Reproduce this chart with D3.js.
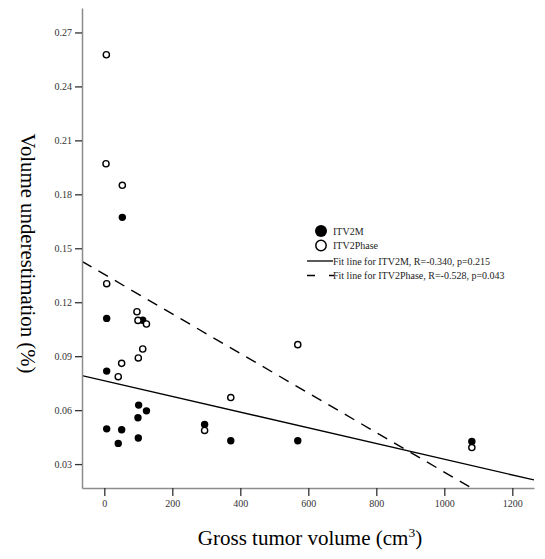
<!DOCTYPE html>
<html>
<head>
<meta charset="utf-8">
<script src="https://cdn.jsdelivr.net/npm/d3@7"></script>
<style>
  html, body { margin: 0; padding: 0; background: #fff; }
  svg { display: block; }
</style>
</head>
<body>
<svg id="chart" width="545" height="559"></svg>
<script>
// ---- data ----
const itv2mGTV   = [53, 7, 113, 7, 101, 124, 99, 295, 7, 51, 100, 41, 372, 569, 1081];
const itv2mUnder = [0.1672, 0.111, 0.110, 0.0817, 0.0628, 0.0596, 0.0558, 0.052, 0.0496, 0.0491, 0.0445, 0.0415, 0.043, 0.043, 0.0426];
const itv2pGTV   = [6, 5, 53, 7, 96, 99, 124, 113, 100, 51, 41, 569, 372, 295, 1081];
const itv2pUnder = [0.2576, 0.197, 0.185, 0.1303, 0.1147, 0.1099, 0.1079, 0.094, 0.089, 0.086, 0.0786, 0.0964, 0.067, 0.0487, 0.0392];
const xTicks = [0, 200, 400, 600, 800, 1000, 1200];
const yTicks = [0.03, 0.06, 0.09, 0.12, 0.15, 0.18, 0.21, 0.24, 0.27];
const legendLabels = ["ITV2M", "ITV2Phase", "Fit line for ITV2M, R=-0.340, p=0.215", "Fit line for ITV2Phase, R=-0.528, p=0.043"];
const xTitle = "Gross tumor volume (cm";
const xTitleSup = "3";
const yTitle = "Volume underestimation (%)";

// ---- layout ----
const L = 82, R = 534, T = 8, B = 488;
const font = "'Liberation Serif', 'Times New Roman', serif";
const svg = d3.select("#chart");

const x = d3.scaleLinear().domain([-65.6, 1263.8]).range([L, R]);
const y = d3.scaleLinear().domain([0.0167, 0.2836]).range([B, T]);

svg.append("defs").append("clipPath").attr("id", "plotclip")
  .append("rect").attr("x", L).attr("y", T).attr("width", R - L).attr("height", B - T);

// fit lines (least squares)
function fit(xs, ys) {
  const mx = d3.mean(xs), my = d3.mean(ys);
  let sxy = 0, sxx = 0;
  xs.forEach((v, i) => { sxy += (v - mx) * (ys[i] - my); sxx += (v - mx) * (v - mx); });
  const b = sxy / sxx;
  return { a: my - b * mx, b };
}
const f1 = fit(itv2mGTV, itv2mUnder);
const f2 = fit(itv2pGTV, itv2pUnder);
const xd = x.domain();
const lineGen = d3.line().x(d => x(d[0])).y(d => y(d[1]));
const gLines = svg.append("g").attr("clip-path", "url(#plotclip)");
gLines.append("path")
  .attr("d", lineGen(xd.map(v => [v, f1.a + f1.b * v])))
  .attr("fill", "none").attr("stroke", "#000").attr("stroke-width", 1.4);
gLines.append("path")
  .attr("d", lineGen(xd.map(v => [v, f2.a + f2.b * v])))
  .attr("fill", "none").attr("stroke", "#000").attr("stroke-width", 1.4)
  .attr("stroke-dasharray", "11,8");

// axes
const yAxis = svg.append("g").attr("transform", `translate(${L},0)`)
  .call(d3.axisLeft(y).tickValues(yTicks).tickFormat(d3.format(".2f")).tickSize(7).tickSizeOuter(0).tickPadding(3));
const xAxis = svg.append("g").attr("transform", `translate(0,${B})`)
  .call(d3.axisBottom(x).tickValues(xTicks).tickFormat(d3.format("d")).tickSize(8).tickSizeOuter(0).tickPadding(4));
[yAxis, xAxis].forEach(g => {
  g.select(".domain").attr("stroke", "#8c8c8c").attr("stroke-width", 1.5);
  g.selectAll(".tick line").attr("stroke", "#333").attr("stroke-width", 1.3);
  g.selectAll(".tick text").attr("font-family", font).attr("font-size", 10).attr("fill", "#333");
});

// points
const gPts = svg.append("g");
gPts.selectAll("circle.m").data(itv2mGTV.map((v, i) => [v, itv2mUnder[i]])).join("circle")
  .attr("class", "m").attr("cx", d => x(d[0])).attr("cy", d => y(d[1])).attr("r", 3.7)
  .attr("fill", "#000");
gPts.selectAll("circle.p").data(itv2pGTV.map((v, i) => [v, itv2pUnder[i]])).join("circle")
  .attr("class", "p").attr("cx", d => x(d[0])).attr("cy", d => y(d[1])).attr("r", 3.1)
  .attr("fill", "#fff").attr("stroke", "#000").attr("stroke-width", 1.4);

// legend
const lg = svg.append("g");
const rows = [231, 245.5, 261, 275.5];
lg.append("circle").attr("cx", 321).attr("cy", rows[0]).attr("r", 6).attr("fill", "#000");
lg.append("circle").attr("cx", 321).attr("cy", rows[1]).attr("r", 5.2).attr("fill", "#fff")
  .attr("stroke", "#000").attr("stroke-width", 1.5);
lg.append("line").attr("x1", 307).attr("x2", 333).attr("y1", rows[2]).attr("y2", rows[2])
  .attr("stroke", "#000").attr("stroke-width", 1.3);
lg.append("line").attr("x1", 307).attr("x2", 334).attr("y1", rows[3]).attr("y2", rows[3])
  .attr("stroke", "#000").attr("stroke-width", 1.3).attr("stroke-dasharray", "8,14");
lg.selectAll("text").data(legendLabels).join("text")
  .attr("x", 333).attr("y", (d, i) => rows[i] + 3.5)
  .attr("font-family", font).attr("font-size", 10).attr("fill", "#222")
  .text(d => d);

// axis titles
const xt = svg.append("text").attr("x", 310).attr("y", 545).attr("text-anchor", "middle")
  .attr("font-family", font).attr("font-size", 21).attr("fill", "#000");
xt.append("tspan").text(xTitle);
xt.append("tspan").attr("dy", -8).attr("font-size", 13.5).text(xTitleSup);
xt.append("tspan").attr("dy", 8).text(")");

svg.append("text").attr("transform", "translate(21,253.5) rotate(90)")
  .attr("text-anchor", "middle")
  .attr("font-family", font).attr("font-size", 20.8).attr("fill", "#000")
  .text(yTitle);
</script>
</body>
</html>
